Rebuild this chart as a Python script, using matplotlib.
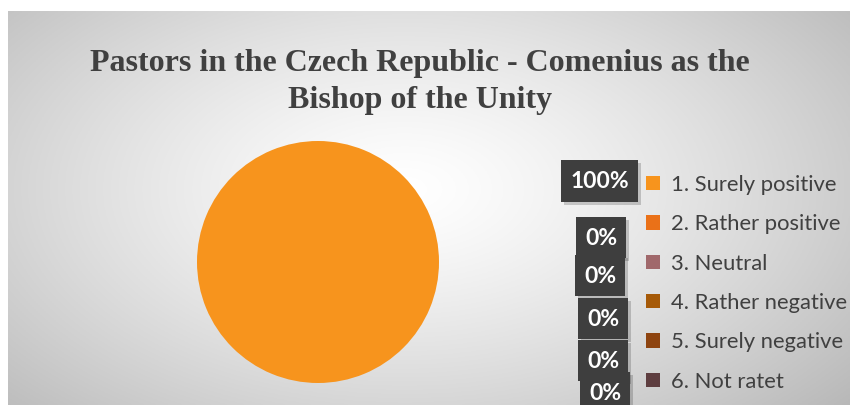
import numpy as np
import matplotlib
matplotlib.use("Agg")
import matplotlib.pyplot as plt
from matplotlib.patches import Rectangle, Patch

# ---- data ----
categories = ["1. Surely positive", "2. Rather positive", "3. Neutral",
              "4. Rather negative", "5. Surely negative", "6. Not ratet"]
values = [100, 0, 0, 0, 0, 0]
colors = ["#F7941D", "#EA7118", "#A0686B", "#A65A08", "#8E4410", "#5E3E40"]
title = "Pastors in the Czech Republic - Comenius as the\nBishop of the Unity"

W, H = 850, 405
fig = plt.figure(figsize=(W / 100, H / 100), dpi=100)
fig.patch.set_facecolor("white")

# background gradient panel
bg = fig.add_axes([8 / W, 0, (W - 8) / W, (H - 11) / H])
bg.set_axis_off()
ny, nx = 200, 420
yy, xx = np.mgrid[0:ny, 0:nx]
cx, cy = 0.47 * nx, 0.45 * ny
d = np.sqrt(((xx - cx) / (nx * 0.62)) ** 2 + ((yy - cy) / (ny * 0.75)) ** 2)
v = 1.0 - 0.24 * np.clip(d, 0, 1.3) ** 1.3
img = np.dstack([v, v, v])
bg.imshow(np.clip(img, 0, 1), aspect="auto", extent=[0, 1, 0, 1])
bg.set_xlim(0, 1); bg.set_ylim(0, 1)

# pie
cxp, cyp, r = 318, 262, 121
ax = fig.add_axes([(cxp - r) / W, (H - cyp - r) / H, 2 * r / W, 2 * r / H])
wedges, _ = ax.pie(values, colors=colors, startangle=90, counterclock=False,
                   radius=1.0, wedgeprops=dict(linewidth=0))
ax.set_xlim(-1, 1); ax.set_ylim(-1, 1)
ax.set_axis_off()

# title
fig.text(420 / W, 1 - 82 / H, title, ha="center", va="center",
         fontsize=23, fontweight="bold", family="Liberation Serif",
         color="#404040", linespacing=1.36)

# data labels (dark boxes)
total = sum(values)
label_boxes = [(561, 160, 77, 42), (576, 217, 50, 41), (575, 255, 50, 41),
               (578, 298, 50, 41), (578, 340, 50, 41), (580, 372, 50, 41)]
for val, (bx, by, bw, bh) in zip(values, label_boxes):
    txt = f"{round(100 * val / total)}%"
    fig.patches.append(Rectangle(((bx + 3) / W, 1 - (by + bh + 3) / H), bw / W, bh / H,
                                 transform=fig.transFigure, facecolor="#000000",
                                 alpha=0.18, edgecolor="none", zorder=5))
    fig.patches.append(Rectangle((bx / W, 1 - (by + bh) / H), bw / W, bh / H,
                                 transform=fig.transFigure, facecolor="#3E3E3E",
                                 edgecolor="none", zorder=6))
    fig.text((bx + bw / 2) / W, 1 - (by + bh / 2 + 1) / H, txt, ha="center", va="center",
             color="white", fontsize=16.5, fontweight="bold", family="Lato", zorder=7)

# legend
handles = [Patch(facecolor=c, edgecolor="none") for c in colors]
leg = fig.legend(handles, categories, loc="upper left",
                 bbox_to_anchor=(646 / W, 1 - 175 / H), frameon=False,
                 prop=dict(family="Lato", size=15.8), labelcolor="#404040",
                 handlelength=0.62, handleheight=0.62, handletextpad=0.5,
                 labelspacing=0.88, borderaxespad=0, borderpad=0)

fig.savefig("out.png", dpi=100)
